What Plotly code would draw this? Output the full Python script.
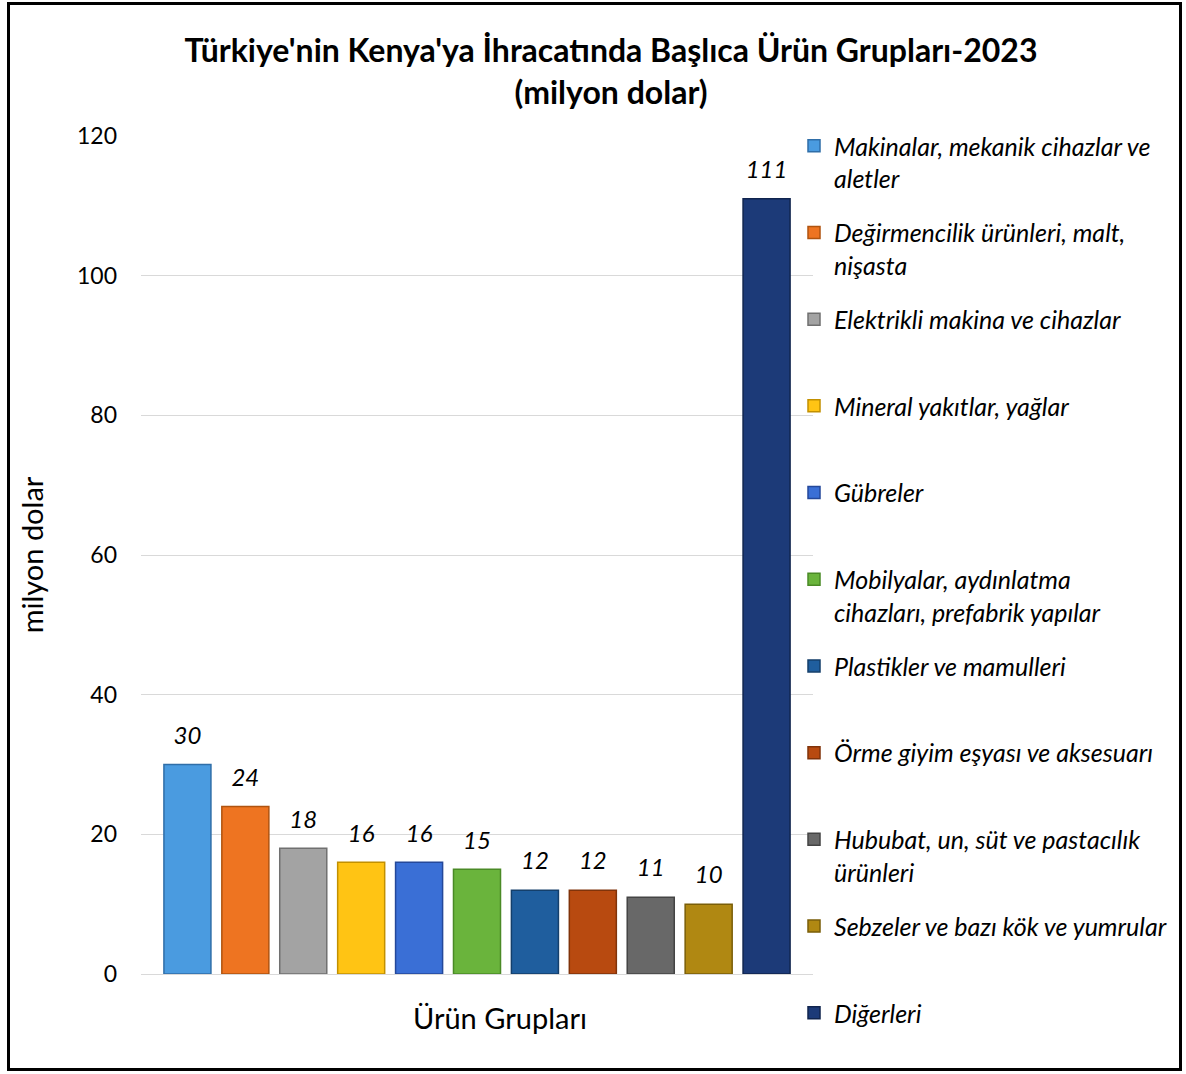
import plotly.graph_objects as go

categories = [
    "Makinalar, mekanik cihazlar ve<br>aletler",
    "Değirmencilik ürünleri, malt,<br>nişasta",
    "Elektrikli makina ve cihazlar<br>\u00a0",
    "Mineral yakıtlar, yağlar<br>\u00a0",
    "Gübreler<br>\u00a0",
    "Mobilyalar, aydınlatma<br>cihazları, prefabrik yapılar",
    "Plastikler ve mamulleri<br>\u00a0",
    "Örme giyim eşyası ve aksesuarı<br>\u00a0",
    "Hububat, un, süt ve pastacılık<br>ürünleri",
    "Sebzeler ve bazı kök ve yumrular<br>\u00a0",
    "Diğerleri<br>\u00a0",
]
values = [30, 24, 18, 16, 16, 15, 12, 12, 11, 10, 111]
colors = ["#4A9BE0", "#EE7421", "#A3A3A3", "#FFC414", "#3A6FD6", "#6AB43C",
          "#1F5E9E", "#B84A10", "#686868", "#B08812", "#1C3A78"]
edges = ["#2F6EA8", "#B0530F", "#707070", "#C29000", "#24489A", "#4A8A26",
         "#143F6B", "#80330A", "#444444", "#7A5E08", "#10244E"]
group_label = "Ürün Grupları"
yticks = [0, 20, 40, 60, 80, 100, 120]

W, H = 1186, 1074
L, R, T, B = 141, 1186 - 813, 136, 100
pw, ph = W - L - R, H - T - B

fig = go.Figure()
for i, (name, v) in enumerate(zip(categories, values)):
    fig.add_trace(go.Bar(
        x=[group_label], y=[v], name=name, legendgroup=f"g{i}",
        marker=dict(color=colors[i], line=dict(color=edges[i], width=1.5)),
        hoverinfo="name+y",
    ))
# data labels, grouped the same way as the bars
for i, v in enumerate(values):
    fig.add_trace(go.Scatter(
        x=[group_label], y=[v], mode="markers+text", showlegend=False,
        marker=dict(size=22, opacity=0), text=[str(v)],
        textposition="top center", cliponaxis=False, hoverinfo="skip",
        textfont=dict(family="Lato", size=24, color="#000000", style="italic"),
    ))

fig.update_layout(
    width=W, height=H,
    margin=dict(l=L, r=R, t=T, b=B),
    paper_bgcolor="white", plot_bgcolor="white",
    barmode="group", bargap=0.052, bargroupgap=0.188,
    scattermode="group", scattergap=0.052,
    font=dict(family="Lato", color="#000000"),
    title=dict(
        text="<b>Türkiye'nin Kenya'ya İhracatında Başlıca Ürün Grupları-2023<br>(milyon dolar)</b>",
        x=611 / W, xref="container", xanchor="center",
        y=1 - 62 / H, yref="container", yanchor="top",
        font=dict(family="Lato", size=32, color="#000000"),
    ),
    xaxis=dict(showticklabels=False, showgrid=False, showline=False, ticks=""),
    yaxis=dict(
        range=[0, 120], tickvals=yticks, showgrid=True, gridcolor="#D9D9D9",
        gridwidth=1, zeroline=True, zerolinecolor="#D9D9D9", zerolinewidth=1,
        showline=False, ticks="", ticklabelstandoff=23,
        tickfont=dict(family="Lato", size=23, color="#000000"),
        title=dict(text="milyon dolar", standoff=24,
                   font=dict(family="Lato", size=29, color="#000000")),
    ),
    legend=dict(
        x=(794 - L) / pw, xanchor="left", y=(974 - 123) / ph, yanchor="top",
        bgcolor="rgba(255,255,255,0)", valign="top",
        font=dict(family="Lato", size=25, color="#000000", style="italic"),
        tracegroupgap=18.7, itemwidth=30, maxheight=1000,
    ),
    showlegend=True,
)

fig.add_annotation(
    text=group_label, xref="paper", yref="paper",
    x=(500 - L) / pw, y=(974 - 1017) / ph, xanchor="center", yanchor="middle",
    showarrow=False, font=dict(family="Lato", size=29, color="#000000"),
)

fig.add_shape(
    type="rect", xref="paper", yref="paper",
    x0=(8.5 - L) / pw, x1=(1180.5 - L) / pw,
    y0=(974 - 1069.5) / ph, y1=(974 - 3.5) / ph,
    line=dict(color="#000000", width=3), layer="above",
)

fig.write_html("out.html", config={"displayModeBar": False},
               post_script="document.body.style.margin='0px';")
